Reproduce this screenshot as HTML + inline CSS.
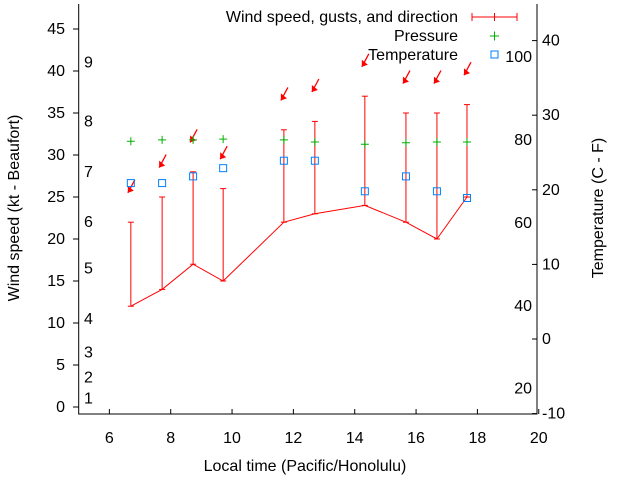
<!DOCTYPE html>
<html><head><meta charset="utf-8"><style>
body{margin:0;background:#fff}
svg{font-family:"Liberation Sans",sans-serif;font-size:16px}
</style></head><body>
<svg id="c" width="640" height="480">
<rect x="0" y="0" width="640" height="480" fill="#fff"/>
<g id="axes"></g><g id="marks"></g>
<text x="305" y="471" text-anchor="middle">Local time (Pacific/Honolulu)</text>
<text transform="translate(19,208) rotate(-90)" text-anchor="middle">Wind speed (kt - Beaufort)</text>
<text transform="translate(603,208) rotate(-90)" text-anchor="middle">Temperature (C - F)</text>
<g>
<text x="458" y="22" text-anchor="end">Wind speed, gusts, and direction</text>
<line x1="472" y1="17" x2="517" y2="17" stroke="red"/><line x1="472" y1="13" x2="472" y2="21" stroke="red"/><line x1="517" y1="13" x2="517" y2="21" stroke="red"/><line x1="494.5" y1="13" x2="494.5" y2="21" stroke="red"/>
<text x="458" y="41" text-anchor="end">Pressure</text>
<path d="M490 36h9M494.5 31.5v9" stroke="#00b000" fill="none"/>
<text x="458" y="60" text-anchor="end">Temperature</text>
<rect x="491" y="51" width="7" height="7" fill="none" stroke="#0080ff"/>
</g>
</svg>
<script>
const times=[6.7,7.72,8.73,9.71,11.69,12.7,14.33,15.67,16.68,17.66];
const wind=[12,14,17,15,22,23,24,22,20,25];
const gusts=[22,25,28,26,33,34,37,35,35,36];
const pressure=[26.5,26.7,26.7,26.8,26.7,26.4,26.1,26.3,26.4,26.4];
const tempC=[20.9,20.9,21.8,22.9,23.9,23.9,19.8,21.8,19.8,18.9];
const xTicks=[6,8,10,12,14,16,18,20];
const yTicks=[0,5,10,15,20,25,30,35,40,45];
const cTicks=[-10,0,10,20,30,40];
const fTicks=[20,40,60,80,100];
const beaufort=[[1,1],[2,3.5],[3,6.5],[4,10.5],[5,16.5],[6,22],[7,28],[8,34],[9,41]];
const NS="http://www.w3.org/2000/svg";
const X=v=>78.7+(v-5)*30.67;
const Y=v=>407-v*8.4;
const YC=c=>339-c*7.46;
const R=537,T=4,B=414;
function el(t,a,p){const e=document.createElementNS(NS,t);for(const k in a)e.setAttribute(k,a[k]);p.appendChild(e);return e;}
const ax=document.getElementById('axes'),mk=document.getElementById('marks');
const frame=el('path',{d:`M78.7 ${T}V${B}H${R}V${T}`,fill:'none',stroke:'#000'},ax);


xTicks.forEach(v=>{const x=X(v);
 el('line',{x1:x,y1:B,x2:x,y2:B-5,stroke:'#000'},ax);
 const t=el('text',{x:x,y:443,'text-anchor':'middle'},ax);t.textContent=v;
 
 });
yTicks.forEach(v=>{const y=Y(v);
 el('line',{x1:78.7,y1:y,x2:73,y2:y,stroke:'#000'},ax);
 const t=el('text',{x:65,y:y+5,'text-anchor':'end'},ax);t.textContent=v;
 
 });
beaufort.forEach(b=>{const t=el('text',{x:84,y:Y(b[1])+5},ax);t.textContent=b[0];
 
 });
cTicks.forEach(v=>{const y=YC(v);
 el('line',{x1:R,y1:y,x2:R-5,y2:y,stroke:'#000'},ax);
 const t=el('text',{x:542,y:y+5},ax);t.textContent=v;
 
 });
fTicks.forEach(v=>{const y=YC((v-32)*5/9);
 const t=el('text',{x:532,y:y+5,'text-anchor':'end'},ax);t.textContent=v;
 
 });
const ln=el('polyline',{points:times.map((t,i)=>X(t)+','+Y(wind[i])).join(' '),fill:'none',stroke:'red'},mk);


times.forEach((t,i)=>{const x=X(t);
 const g=el('g',{},mk);
 
 
 el('line',{x1:x,y1:Y(wind[i]),x2:x,y2:Y(gusts[i]),stroke:'red'},g);
 el('line',{x1:x-3,y1:Y(gusts[i]),x2:x+3,y2:Y(gusts[i]),stroke:'red'},g);
 el('line',{x1:x-3,y1:Y(wind[i]),x2:x+3,y2:Y(wind[i]),stroke:'red'},g);
 const ay=Y(gusts[i]+3.5),axx=x-3;
 const a=el('g',{},mk);
 
 
 el('line',{x1:axx,y1:ay,x2:axx+7,y2:ay-13,stroke:'red','stroke-width':1.3},a);
 el('path',{d:`M${axx} ${ay}l0 -7l6 5z`,fill:'red'},a);
 const p=el('path',{d:`M${x-4} ${YC(pressure[i])}h8M${x} ${YC(pressure[i])-4}v8`,stroke:'#00b000',fill:'none'},mk);
 
 
 const s=el('rect',{x:x-3.5,y:YC(tempC[i])-3.5,width:7,height:7,fill:'none',stroke:'#0080ff'},mk);
 
 
});
</script>
</body></html>
